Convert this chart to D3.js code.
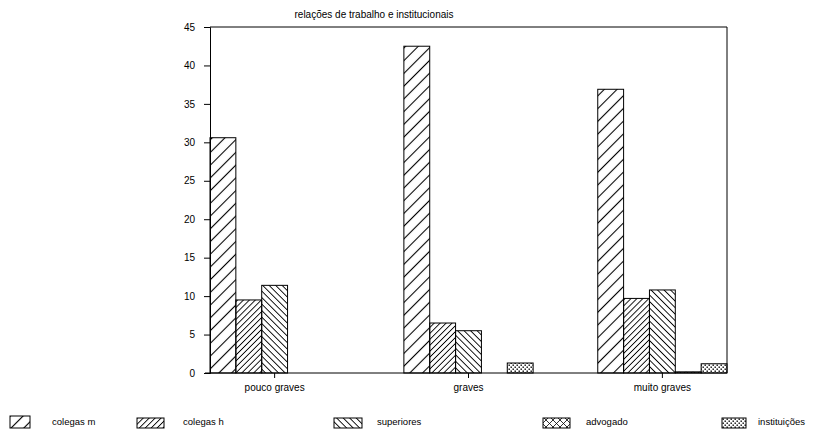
<!DOCTYPE html>
<html><head><meta charset="utf-8">
<script src="https://cdn.jsdelivr.net/npm/d3@7"></script>
<style>body{margin:0;background:#fff}svg{display:block}text{font-family:"Liberation Sans",Arial,sans-serif;fill:#000}</style>
</head><body>
<script>
const title = "relações de trabalho e institucionais";
const categories = ["pouco graves", "graves", "muito graves"];
const seriesNames = ["colegas m", "colegas h", "superiores", "advogado", "instituições"];
const colegasM = [30.6, 42.5, 36.9];
const colegasH = [9.5, 6.5, 9.7];
const superiores = [11.4, 5.5, 10.8];
const advogado = [0, 0, 0.15];
const instituicoes = [0, 1.3, 1.2];
const yTicks = [0, 5, 10, 15, 20, 25, 30, 35, 40, 45];
const seriesValues = [colegasM, colegasH, superiores, advogado, instituicoes];

(function(){
const W = 832, H = 434;
const svg = d3.select("body").append("svg").attr("width", W).attr("height", H);
const defs = svg.append("defs");

function linePattern(id, spacing, angle, sw) {
  const p = defs.append("pattern").attr("id", id).attr("patternUnits", "userSpaceOnUse")
    .attr("width", spacing).attr("height", spacing).attr("patternTransform", `rotate(${angle})`);
  p.append("line").attr("x1", spacing/2).attr("y1", 0).attr("x2", spacing/2).attr("y2", spacing)
    .attr("stroke", "#000").attr("stroke-width", sw);
}
linePattern("p0", 9, 45, 1.1);
linePattern("p1", 4.2, 45, 0.9);
linePattern("p2", 4.6, -45, 0.9);
(function(){
  const s = 7;
  const p = defs.append("pattern").attr("id", "p3").attr("patternUnits", "userSpaceOnUse")
    .attr("width", s).attr("height", s);
  p.append("path").attr("d", `M0,0L${s},${s}M${s},0L0,${s}`).attr("stroke", "#000").attr("stroke-width", 0.8);
})();
(function(){
  const s = 4;
  const p = defs.append("pattern").attr("id", "p4").attr("patternUnits", "userSpaceOnUse")
    .attr("width", s).attr("height", s);
  p.append("rect").attr("x", 0.5).attr("y", 0.5).attr("width", 1.4).attr("height", 1.4).attr("fill", "#000");
  p.append("rect").attr("x", 2.5).attr("y", 2.5).attr("width", 1.4).attr("height", 1.4).attr("fill", "#000");
})();

const mL = 210, mR = 727, mT = 27, mB = 373;
const y = d3.scaleLinear().domain([0, 45]).range([mB, mT]);
const x0 = d3.scaleBand().domain(categories).range([mL, mR]).paddingInner(1/3).paddingOuter(0);
const x1 = d3.scaleBand().domain(seriesNames).range([0, x0.bandwidth()]).padding(0);

seriesNames.forEach((s, si) => {
  svg.append("g").selectAll("rect").data(categories).join("rect")
    .attr("x", c => x0(c) + x1(s))
    .attr("y", (c, i) => y(seriesValues[si][i]))
    .attr("width", x1.bandwidth())
    .attr("height", (c, i) => mB - y(seriesValues[si][i]))
    .attr("fill", `url(#p${si})`)
    .attr("stroke", "#000").attr("stroke-width", 1);
});

svg.append("line").attr("x1", mL).attr("x2", mR).attr("y1", mT).attr("y2", mT).attr("stroke", "#000");
svg.append("line").attr("x1", mR).attr("x2", mR).attr("y1", mT).attr("y2", mB).attr("stroke", "#000");

const yAxis = d3.axisLeft(y).tickValues(yTicks).tickSize(6).tickPadding(9).tickFormat(d3.format("d"));
const gy = svg.append("g").attr("transform", `translate(${mL},0)`).call(yAxis);
gy.select(".domain").attr("stroke", "#000");
gy.selectAll("text").attr("font-size", 10).attr("font-family", "Liberation Sans, Arial, sans-serif");

const xAxis = d3.axisBottom(x0).tickSize(5).tickPadding(6);
const gx = svg.append("g").attr("transform", `translate(0,${mB})`).call(xAxis);
gx.select(".domain").attr("d", `M${mL-5},0H${mR}`).attr("stroke", "#000");
gx.selectAll("text").attr("font-size", 10).attr("font-family", "Liberation Sans, Arial, sans-serif");

svg.append("text").attr("x", 374).attr("y", 18).attr("text-anchor", "middle").attr("font-size", 10).text(title);

const legendX = [10, 137, 334, 543, 722];
const legendW = [20, 27, 28, 27, 24];
const legendTextX = [52, 183, 377, 586, 758];
seriesNames.forEach((s, i) => {
  svg.append("rect").attr("x", legendX[i]).attr("y", i === 0 ? 416 : 418).attr("width", legendW[i]).attr("height", i === 0 ? 12 : 10)
    .attr("fill", `url(#p${i})`).attr("stroke", "#000").attr("stroke-width", 1);
  svg.append("text").attr("x", legendTextX[i]).attr("y", 425).attr("font-size", 9.5).text(s);
});
})();
</script>
</body></html>
